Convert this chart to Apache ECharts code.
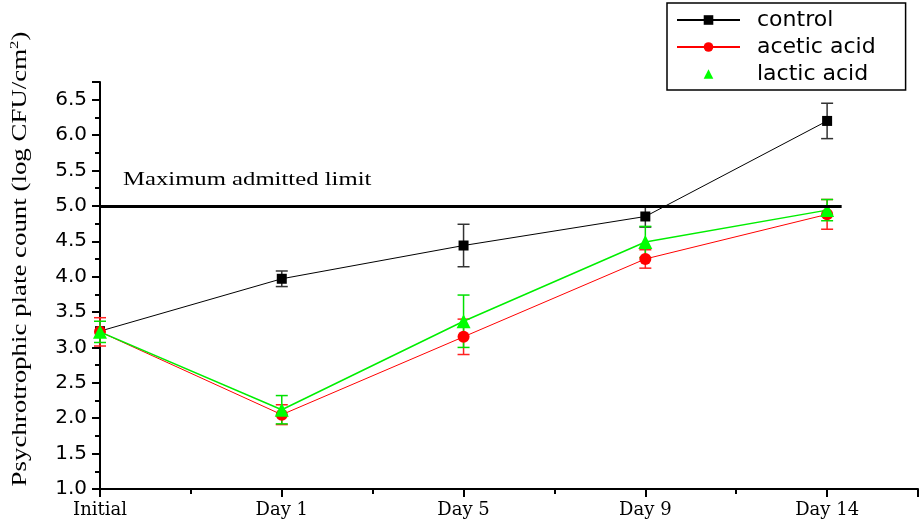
<!DOCTYPE html>
<html>
<head>
<meta charset="utf-8">
<script src="https://cdn.jsdelivr.net/npm/echarts@6/dist/echarts.min.js"></script>
<style>
  html, body { margin: 0; padding: 0; background: #fff; }
  #main { width: 920px; height: 521px; }
</style>
</head>
<body>
<div id="main"></div>
<script>
const days = ['Initial', 'Day 1', 'Day 5', 'Day 9', 'Day 14']

const control = [3.23, 3.97, 4.44, 4.85, 6.2]
const controlErr = [0, 0.11, 0.3, 0.15, 0.25]
const acetic = [3.22, 2.05, 3.15, 4.25, 4.88]
const aceticErr = [0.2, 0.14, 0.25, 0.13, 0.21]
const lactic = [3.22, 2.12, 3.37, 4.49, 4.94]
const lacticErr = [0.15, 0.2, 0.37, 0.22, 0.15]

const limit = 5.0

let myChart = echarts.init(document.getElementById('main'))

function pts(arr) {
  return arr.map((v, i) => [i, v])
}

function errData(arr, err) {
  return arr.map((v, i) => [i, v - err[i], v + err[i]])
}

function errSeries(name, arr, err, color) {
  return {
    name: name + ' err',
    type: 'custom',
    data: errData(arr, err).filter((d) => d[2] > d[1]),
    z: 1,
    renderItem: function (params, api) {
      let lo = api.coord([api.value(0), api.value(1)])
      let hi = api.coord([api.value(0), api.value(2)])
      let w = 6
      let st = { stroke: color, lineWidth: 1.5 }
      return {
        type: 'group',
        children: [
          { type: 'line', shape: { x1: lo[0], y1: lo[1], x2: hi[0], y2: hi[1] }, style: st },
          { type: 'line', shape: { x1: lo[0] - w, y1: lo[1], x2: lo[0] + w, y2: lo[1] }, style: st },
          { type: 'line', shape: { x1: hi[0] - w, y1: hi[1], x2: hi[0] + w, y2: hi[1] }, style: st }
        ]
      }
    }
  }
}

let option = {
  animation: false,
  grid: { left: 100, right: 2, top: 82, bottom: 32 },
  legend: {
    orient: 'vertical',
    left: 667,
    top: 3,
    padding: [6, 30, 5, 9],
    borderColor: '#000',
    borderWidth: 1.5,
    itemWidth: 63,
    itemHeight: 12,
    itemGap: 5,
    textStyle: { fontFamily: 'DejaVu Sans', fontSize: 22, color: '#000', padding: [0, 0, 0, 12] },
    data: [
      { name: 'control' },
      { name: 'acetic acid' },
      { name: 'lactic acid', lineStyle: { opacity: 0 } }
    ]
  },
  graphic: [{
    type: 'text',
    x: 123,
    y: 171,
    scaleX: 1.3,
    style: { text: 'Maximum admitted limit', fontFamily: 'Liberation Serif', fontSize: 19, fill: '#000' }
  }, {
    type: 'text',
    x: 20,
    y: 259,
    rotation: Math.PI / 2,
    scaleX: 1.28,
    style: {
      text: 'Psychrotrophic plate count (log CFU/cm{s|2})',
      fontFamily: 'Liberation Serif', fontSize: 21, fill: '#000',
      align: 'center', verticalAlign: 'middle',
      rich: { s: { fontFamily: 'Liberation Serif', fontSize: 13, verticalAlign: 'top', padding: [0, 0, 10, 0] } }
    }
  }],
  xAxis: {
    type: 'value',
    min: 0,
    max: 4.5,
    interval: 1,
    splitLine: { show: false },
    axisLine: { lineStyle: { color: '#000', width: 2 } },
    axisTick: { show: true, length: 8, lineStyle: { width: 2, color: '#000' } },
    minorTick: { show: true, splitNumber: 2, length: 5, lineStyle: { width: 2, color: '#000' } },
    axisLabel: {
      showMaxLabel: false,
      margin: 12,
      fontFamily: 'DejaVu Serif', fontSize: 18, color: '#000',
      formatter: (v) => (Number.isInteger(v) && days[v] !== undefined ? days[v] : '')
    }
  },
  yAxis: {
    type: 'value',
    min: 1,
    max: 6.75,
    interval: 0.5,
    splitLine: { show: false },
    axisLine: { show: true, lineStyle: { color: '#000', width: 2 } },
    axisTick: { show: true, length: 8, lineStyle: { width: 2, color: '#000' } },
    minorTick: { show: true, splitNumber: 2, length: 5, lineStyle: { width: 2, color: '#000' } },
    axisLabel: {
      showMaxLabel: false,
      margin: 13,
      fontFamily: 'DejaVu Sans', fontSize: 20, color: '#000',
      formatter: (v) => (v > 6.6 ? '' : v.toFixed(1))
    }
  },
  series: [
    errSeries('control', control, controlErr, '#333'),
    errSeries('acetic acid', acetic, aceticErr, '#ff2020'),
    errSeries('lactic acid', lactic, lacticErr, '#00e000'),
    {
      name: 'control',
      type: 'line',
      data: pts(control),
      symbol: 'rect',
      symbolSize: 10,
      color: '#000',
      lineStyle: { width: 1, color: '#000' },
      z: 3,
      markLine: {
        silent: true,
        symbol: 'none',
        label: { show: false },
        lineStyle: { color: '#000', width: 3, type: 'solid' },
        data: [[{ coord: [0, limit] }, { coord: [4.08, limit] }]]
      }
    },
    {
      name: 'acetic acid',
      type: 'line',
      data: pts(acetic),
      symbol: 'circle',
      symbolSize: 12,
      color: '#ff0000',
      lineStyle: { width: 1, color: '#ff0000' },
      z: 3
    },
    {
      name: 'lactic acid',
      type: 'line',
      data: pts(lactic),
      symbol: 'triangle',
      symbolSize: 14,
      color: '#00ff00',
      lineStyle: { width: 1.5, color: '#00ee00' },
      z: 4
    }
  ]
}

myChart.setOption(option)
</script>
</body>
</html>
